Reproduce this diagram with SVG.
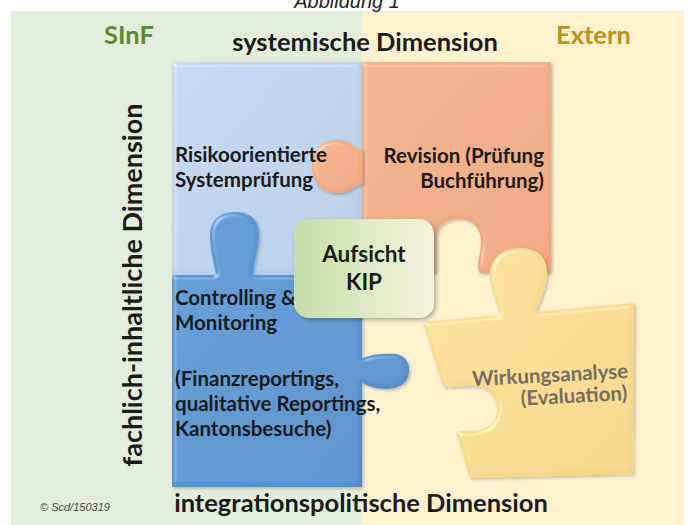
<svg xmlns="http://www.w3.org/2000/svg" width="694" height="525" viewBox="0 0 694 525">
<defs>
<style>
.t{font-family:Lato,"Open Sans","Liberation Sans",sans-serif;font-weight:bold;fill:#1b1b1b}
.hd{font-size:25.5px}
.bd{font-size:20.5px}
.ti{font-family:"Liberation Sans",Arial,sans-serif;font-style:italic;fill:#222}
</style>
<linearGradient id="gBlueL" x1="0" y1="0" x2="1" y2="1"><stop offset="0" stop-color="#c2d8ee"/><stop offset="1" stop-color="#b5cce6"/></linearGradient>
<linearGradient id="gBlueD" x1="0" y1="0" x2="1" y2="1"><stop offset="0" stop-color="#5b9ad6"/><stop offset="1" stop-color="#528dca"/></linearGradient>
<linearGradient id="gOr" x1="0" y1="0" x2="1" y2="1"><stop offset="0" stop-color="#f1b089"/><stop offset="1" stop-color="#eca67d"/></linearGradient>
<linearGradient id="gYe" x1="0" y1="0" x2="1" y2="1"><stop offset="0" stop-color="#f8de96"/><stop offset="1" stop-color="#f4d686"/></linearGradient>
<linearGradient id="gGr" x1="0" y1="0" x2="1" y2="0"><stop offset="0" stop-color="#c4dea6"/><stop offset="0.6" stop-color="#e2ecc8"/><stop offset="1" stop-color="#f6f2dc"/></linearGradient>
<filter id="bevel" x="-10%" y="-10%" width="125%" height="125%">
<feGaussianBlur in="SourceAlpha" stdDeviation="2" result="b"/>
<feSpecularLighting in="b" surfaceScale="3" specularConstant="0.7" specularExponent="25" lighting-color="#ffffff" result="s"><feDistantLight azimuth="225" elevation="40"/></feSpecularLighting>
<feComposite in="s" in2="SourceAlpha" operator="in" result="si"/>
<feComposite in="SourceGraphic" in2="si" operator="arithmetic" k1="0" k2="1" k3="0.5" k4="0" result="lit"/>
<feDropShadow in="lit" dx="1.5" dy="1.5" stdDeviation="1.5" flood-color="#000" flood-opacity="0.25"/>
</filter>
<filter id="shadow" x="-10%" y="-10%" width="125%" height="125%">
<feDropShadow dx="2" dy="2" stdDeviation="2" flood-color="#000" flood-opacity="0.3"/>
</filter>
</defs>

<g id="background">
<rect x="11" y="11" width="351" height="514" fill="#e3eeda"/>
<rect x="362" y="11" width="322" height="514" fill="#fdf1d0"/>
</g>

<text class="ti" x="347" y="8" font-size="20" text-anchor="middle">Abbildung 1</text>

<g id="labels">
<text class="t hd" x="104" y="44" style="fill:#5b8a33">SInF</text>
<text class="t hd" x="365" y="51" text-anchor="middle">systemische Dimension</text>
<text class="t hd" x="556" y="44" style="fill:#bf9410">Extern</text>
<text class="t" font-size="27" transform="translate(142,285) rotate(-90)" text-anchor="middle">fachlich-inhaltliche Dimension</text>
<text class="t hd" x="361" y="512" text-anchor="middle">integrationspolitische Dimension</text>
<text class="ti" x="40" y="511" font-size="11" style="fill:#444">© Scd/150319</text>
</g>

<g id="risiko">
<rect x="172" y="62" width="190" height="213" fill="url(#gBlueL)" filter="url(#bevel)"/>
</g>

<g id="revision">
<path d="M362,62 H551 V273 H480 C475,265 481,255 481,242 C481,228 472,219 458,219 C446,219 436,226 436,240 V273 H362 Z" fill="url(#gOr)" filter="url(#bevel)"/>
<path d="M363,150 C352,148 350,140 337,140 C320,140 312,150 312,166 C312,183 322,193 337,193 C350,193 352,186 363,184 Z" fill="url(#gOr)" filter="url(#bevel)"/>
<text class="t bd" x="544" y="163" text-anchor="end">Revision (Prüfung</text>
<text class="t bd" x="544" y="188" text-anchor="end">Buchführung)</text>
</g>

<g id="risiko-text">
<text class="t bd" x="175" y="162">Risikoorientierte</text>
<text class="t bd" x="175" y="187">Systemprüfung</text>
</g>

<g id="controlling">
<path d="M172,275 H216 C214,262 210,252 210,236 C210,220 220,212 235,212 C250,212 260,220 259,236 C258,252 254,262 253,275 H362 V358 C372,354 384,353 396,354 C406,356 410,364 409,372 C408,384 398,389 386,389 C376,389 368,386 362,383 V487 H172 Z" fill="url(#gBlueD)" filter="url(#bevel)"/>
<text class="t bd" x="175" y="305">Controlling &amp;</text>
<text class="t bd" x="175" y="330">Monitoring</text>
<text class="t bd" x="175" y="386">(Finanzreportings,</text>
<text class="t bd" x="175" y="411">qualitative Reportings,</text>
<text class="t bd" x="175" y="436">Kantonsbesuche)</text>
</g>

<g id="wirkung">
<path d="M423,322 L500,315 C498,303 490,290 490,275 C490,258 503,248 520,248 C538,248 548,258 547,275 C546,292 538,303 536,312 L634,303 L633,474 L470,478 L456,432 C462,430 466,432 474,431 C488,430 497,422 497,410 C497,397 489,387 475,386 C462,385 452,389 443,386 Z" fill="url(#gYe)" filter="url(#bevel)"/>
<g transform="rotate(-3 551 390)">
<text class="t" x="629" y="382" text-anchor="end" font-size="20.5" style="fill:#746d63">Wirkungsanalyse</text>
<text class="t" x="627" y="404" text-anchor="end" font-size="20.5" style="fill:#746d63">(Evaluation)</text>
</g>
</g>

<g id="aufsicht">
<rect x="294" y="219" width="140" height="99" rx="15" fill="url(#gGr)" filter="url(#shadow)"/>
<text class="t" x="364" y="262" text-anchor="middle" font-size="22.5">Aufsicht</text>
<text class="t" x="364" y="290" text-anchor="middle" font-size="22.5">KIP</text>
</g>

<g id="connectors"></g>
</svg>
